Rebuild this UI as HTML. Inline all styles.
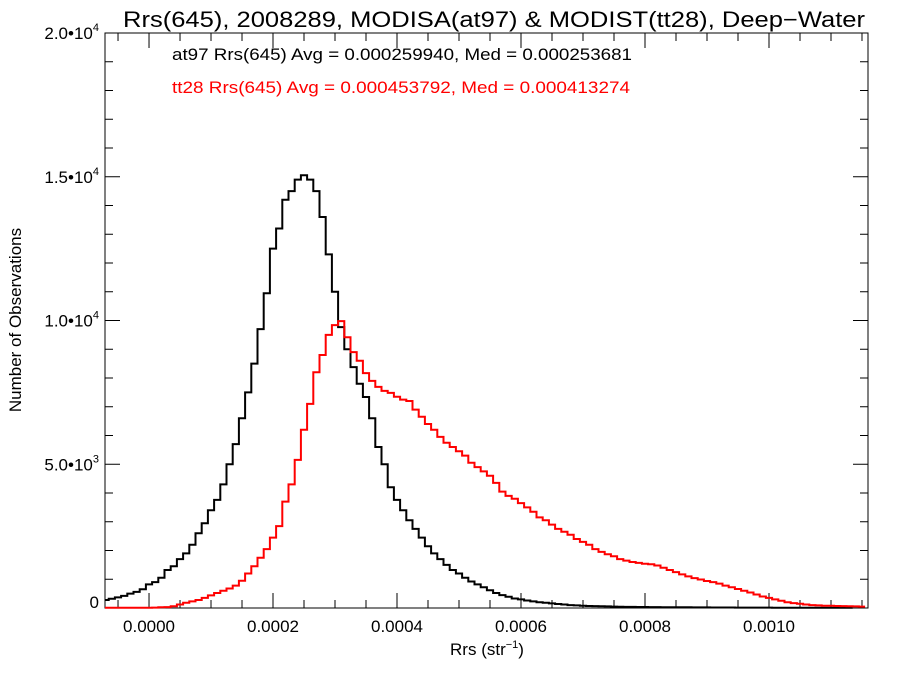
<!DOCTYPE html>
<html><head><meta charset="utf-8"><style>
html,body{margin:0;padding:0;background:#fff;}
svg{display:block;font-family:"Liberation Sans",Arial,sans-serif;}
</style></head><body>
<svg id="chart" width="900" height="675" viewBox="0 0 900 675" xmlns="http://www.w3.org/2000/svg">
<rect x="0" y="0" width="900" height="675" fill="#fff"/>
<text x="494" y="27" font-size="22" text-anchor="middle" textLength="742" lengthAdjust="spacingAndGlyphs">Rrs(645), 2008289, MODISA(at97) &amp; MODIST(tt28), Deep−Water</text>
<text x="172" y="60" font-size="17" textLength="460" lengthAdjust="spacingAndGlyphs">at97 Rrs(645) Avg = 0.000259940, Med = 0.000253681</text>
<text x="172" y="93" font-size="17" fill="#ff0000" textLength="458" lengthAdjust="spacingAndGlyphs">tt28 Rrs(645) Avg = 0.000453792, Med = 0.000413274</text>
<text transform="translate(21,320) rotate(-90)" font-size="17" text-anchor="middle">Number of Observations</text>
<text x="487" y="655" font-size="17" text-anchor="middle">Rrs (str<tspan font-size="11" dy="-7">−1</tspan><tspan dy="7">)</tspan></text>
<g id="axes"></g>
<g id="series"></g>
</svg>
<script>
const xTickValues = [0, 0.0002, 0.0004, 0.0006, 0.0008, 0.0010];
const xTickLabels = ["0.0000", "0.0002", "0.0004", "0.0006", "0.0008", "0.0010"];
const yTickValues = [0, 5000, 10000, 15000, 20000];
const yTickMantissa = ["0", "5.0", "1.0", "1.5", "2.0"];
const yTickExp = ["", "3", "4", "4", "4"];
const binStart = -0.00007;
const binWidth = 0.00001;
const at97Counts = [280,320,370,420,500,560,650,820,900,1050,1320,1450,1700,1900,2200,2600,2950,3400,3760,4300,5000,5700,6600,7500,8500,9700,10950,12500,13200,14200,14500,14900,15050,14900,14500,13600,12300,11000,9770,9000,8380,7800,7340,6600,5600,5000,4200,3760,3400,3050,2750,2450,2150,1900,1700,1500,1320,1200,1050,920,820,720,620,520,450,390,330,300,260,230,200,180,160,140,120,100,90,80,70,65,60,55,50,45,40,38,36,35,33,30,28,26,25,24,23,22,21,20,19,18,17,16,15,15,14,14,13,13,12,12,12,11,11,11,10,10,10,10,10,10,10];
const tt28Counts = [10,10,10,10,10,10,10,10,15,25,30,60,120,180,230,280,350,440,520,600,680,780,950,1200,1450,1750,2050,2450,2850,3700,4300,5150,6200,7100,8200,8800,9500,9840,9980,9420,8900,8600,8170,7900,7690,7550,7480,7350,7250,7200,6900,6650,6400,6200,5950,5750,5600,5450,5300,5050,4900,4750,4600,4350,4050,3900,3800,3650,3500,3350,3150,3050,2900,2750,2650,2550,2400,2300,2200,2050,1950,1870,1800,1700,1650,1600,1570,1540,1520,1480,1400,1320,1250,1170,1100,1040,990,940,900,850,780,720,660,600,540,470,400,350,300,250,200,170,150,120,100,90,80,75,70,65,60,55,50];

const NS = "http://www.w3.org/2000/svg";
const L = 105, R = 868, T = 33, B = 608;
const xMin = -0.0000710, xMax = 0.0011597, yMax = 20000;
function xs(v){ return Math.max(L, Math.min(R, L + (v - xMin) / (xMax - xMin) * (R - L))); }
function ys(v){ return B - v / yMax * (B - T); }
function mk(tag, attrs, parent){ const e = document.createElementNS(NS, tag); for (const k in attrs) e.setAttribute(k, attrs[k]); parent.appendChild(e); return e; }
const axes = document.getElementById('axes');
const series = document.getElementById('series');

const frame = mk('rect', {x:L, y:T, width:R-L, height:B-T, fill:'none', stroke:'#000', 'stroke-width':1}, axes);



for (let k = -1; k * 0.00005 <= xMax + 1e-9; k++) {
  const v = k * 0.00005;
  const major = k % 4 === 0;
  const len = major ? 15 : 8;
  const x = xs(v);
  const t1 = mk('line', {x1:x, x2:x, y1:B, y2:B-len, stroke:'#000'}, axes);
  
  
  const t2 = mk('line', {x1:x, x2:x, y1:T, y2:T+len, stroke:'#000'}, axes);
  
  
}
xTickValues.forEach((v, i) => {
  const t = mk('text', {x:xs(v), y:B+24, 'font-size':17, 'text-anchor':'middle'}, axes);
  t.textContent = xTickLabels[i];
  
  
});
for (let v = 0; v <= yMax; v += 1000) {
  const major = v % 5000 === 0;
  const len = major ? 15 : 8;
  const y = ys(v);
  const t1 = mk('line', {x1:L, x2:L+len, y1:y, y2:y, stroke:'#000'}, axes);
  
  
  const t2 = mk('line', {x1:R, x2:R-len, y1:y, y2:y, stroke:'#000'}, axes);
  
  
}
yTickValues.forEach((v, i) => {
  const t = mk('text', {x:99, y:ys(v) + (v === 0 ? 0 : 6), 'font-size':17, 'text-anchor':'end'}, axes);
  if (yTickExp[i]) {
    t.textContent = yTickMantissa[i] + "•10";
    const s = mk('tspan', {'font-size':11, dy:-8}, t);
    s.textContent = yTickExp[i];
  } else {
    t.textContent = yTickMantissa[i];
  }
  
  
});

function stepPath(counts){
  let d = '';
  for (let i = 0; i < counts.length; i++) {
    const c = binStart + i * binWidth;
    const a = xs(c - binWidth / 2), b = xs(c + binWidth / 2);
    const y = ys(counts[i]).toFixed(1);
    d += (i === 0 ? 'M' : 'L') + a.toFixed(1) + ',' + y + 'L' + b.toFixed(1) + ',' + y;
  }
  return d;
}
const pa = mk('path', {d:stepPath(at97Counts), fill:'none', stroke:'#000', 'stroke-width':2}, series);


const pt = mk('path', {d:stepPath(tt28Counts), fill:'none', stroke:'#ff0000', 'stroke-width':2}, series);


</script>
</body></html>
